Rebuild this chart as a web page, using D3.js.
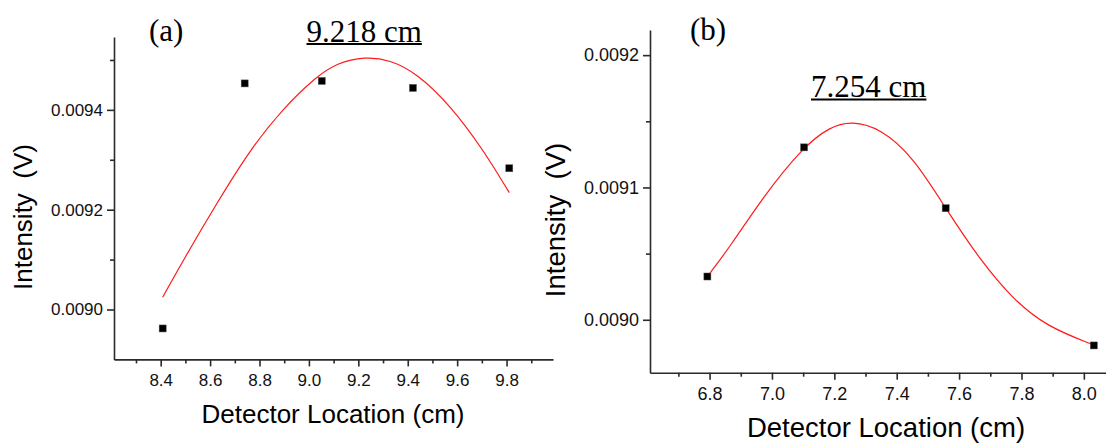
<!DOCTYPE html>
<html>
<head>
<meta charset="utf-8">
<script src="https://cdn.jsdelivr.net/npm/d3@7"></script>
<style>
  body { margin: 0; background: #fff; }
  svg { display: block; }
  .tick text { font-family: "Liberation Sans", Arial, sans-serif; fill: #111; }
  .domain, .tick line { stroke: #2a2a2a; stroke-width: 1.6; }
</style>
</head>
<body>
<svg id="chart" width="1106" height="444"></svg>
<script>
// panel (a) - measured points and fitted curve
const aX = [8.408, 8.740, 9.052, 9.421, 9.811];
const aY = [0.008962, 0.009453, 0.009458, 0.009444, 0.009283];
const aFitX = [8.408, 8.492, 8.627, 8.761, 8.896, 9.031, 9.112, 9.227, 9.328, 9.436, 9.571, 9.706, 9.811];
const aFitY = [0.0090245, 0.0090993, 0.0092130, 0.0093198, 0.0094035, 0.0094668, 0.0094937, 0.0095069, 0.0095003, 0.0094736, 0.0094101, 0.0093198, 0.0092342];
const aXTicks = [8.4, 8.6, 8.8, 9.0, 9.2, 9.4, 9.6, 9.8];
const aXMinor = [8.3, 8.5, 8.7, 8.9, 9.1, 9.3, 9.5, 9.7, 9.9];
const aYTicks = [0.0090, 0.0092, 0.0094];
const aYMinor = [0.0091, 0.0093, 0.0095];

// panel (b)
const bX = [6.793, 7.103, 7.557, 8.032];
const bY = [0.0090327, 0.0091303, 0.0090843, 0.0089806];
const bFitX = [6.793, 6.866, 6.972, 7.101, 7.186, 7.256, 7.347, 7.453, 7.560, 7.667, 7.774, 7.881, 8.030];
const bFitY = [0.0090327, 0.0090553, 0.0090931, 0.0091308, 0.0091459, 0.0091502, 0.0091447, 0.0091232, 0.0090830, 0.0090453, 0.0090151, 0.0089949, 0.0089811];
const bXTicks = [6.8, 7.0, 7.2, 7.4, 7.6, 7.8, 8.0];
const bXMinor = [6.7, 6.9, 7.1, 7.3, 7.5, 7.7, 7.9];
const bYTicks = [0.0090, 0.0091, 0.0092];
const bYMinor = [0.00905, 0.00915];

const svg = d3.select("#chart");

function drawPanel(p) {
	const x = d3.scaleLinear().domain(p.xDomain).range([p.left, p.right]);
	const y = d3.scaleLinear().domain(p.yDomain).range([p.bottom, p.top]);
	const g = svg.append("g");

	// minor ticks first, no labels
	g.append("g")
		.attr("transform", "translate(0," + p.bottom + ")")
		.call(d3.axisBottom(x).tickValues(p.xMinor).tickSize(4).tickSizeOuter(0).tickFormat(""))
		.select(".domain").remove();
	g.append("g")
		.attr("transform", "translate(" + p.left + ",0)")
		.call(d3.axisLeft(y).tickValues(p.yMinor).tickSize(4).tickSizeOuter(0).tickFormat(""))
		.select(".domain").remove();

	const xa = g.append("g")
		.attr("transform", "translate(0," + p.bottom + ")")
		.call(d3.axisBottom(x).tickValues(p.xTicks).tickSize(7).tickSizeOuter(0).tickPadding(8).tickFormat(d3.format(".1f")));
	xa.selectAll("text").attr("font-size", p.tickFont);

	const ya = g.append("g")
		.attr("transform", "translate(" + p.left + ",0)")
		.call(d3.axisLeft(y).tickValues(p.yTicks).tickSize(7).tickSizeOuter(0).tickPadding(4).tickFormat(d3.format(".4f")));
	ya.selectAll("text").attr("font-size", p.tickFont);

	// fitted curve (smoothed through the read-off points)
	const line = d3.line()
		.x(function (d) { return x(d[0]); })
		.y(function (d) { return y(d[1]); })
		.curve(d3.curveBasis);
	g.append("path")
		.datum(d3.zip(p.fitX, p.fitY))
		.attr("d", line)
		.attr("fill", "none")
		.attr("stroke", "#ff1a1a")
		.attr("stroke-width", 1.2);

	// data squares
	g.selectAll("rect.pt")
		.data(d3.zip(p.ptX, p.ptY))
		.join("rect")
		.attr("class", "pt")
		.attr("x", function (d) { return x(d[0]) - 3.5; })
		.attr("y", function (d) { return y(d[1]) - 3.5; })
		.attr("width", 7)
		.attr("height", 7)
		.attr("fill", "#000")
		.attr("stroke", "#555")
		.attr("stroke-width", 0.5);

	// axis titles
	g.append("text")
		.attr("x", p.xTitleX)
		.attr("y", p.xTitleY)
		.attr("text-anchor", "middle")
		.attr("font-family", "Liberation Sans, Arial, sans-serif")
		.attr("font-size", p.titleFont)
		.text("Detector Location (cm)");
	g.append("text")
		.attr("transform", "translate(" + p.yTitleX + "," + p.yTitleY + ") rotate(-90)")
		.attr("text-anchor", "middle")
		.attr("font-family", "Liberation Sans, Arial, sans-serif")
		.attr("font-size", p.titleFont)
		.style("white-space", "pre")
		.text("Intensity  (V)");

	// panel letter and peak annotation
	g.append("text")
		.attr("x", p.letterX).attr("y", p.letterY)
		.attr("font-family", "Liberation Serif, Times New Roman, serif")
		.attr("font-size", 31)
		.text(p.letter);
	const peak = g.append("text")
		.attr("x", p.peakX).attr("y", p.peakY)
		.attr("font-family", "Liberation Serif, Times New Roman, serif")
		.attr("font-size", 31)
		.text(p.peak);
	const w = peak.node().getComputedTextLength();
	g.append("line")
		.attr("x1", p.peakX).attr("x2", p.peakX + w)
		.attr("y1", p.peakY + 2.5).attr("y2", p.peakY + 2.5)
		.attr("stroke", "#000").attr("stroke-width", 2);
}

drawPanel({
	xDomain: [8.211, 9.988], yDomain: [0.0089, 0.009546],
	left: 114, right: 553, top: 37, bottom: 359.4,
	xTicks: aXTicks, xMinor: aXMinor, yTicks: aYTicks, yMinor: aYMinor,
	ptX: aX, ptY: aY, fitX: aFitX, fitY: aFitY,
	tickFont: 17, titleFont: 26,
	xTitleX: 333, xTitleY: 423, yTitleX: 32, yTitleY: 217,
	letter: "(a)", letterX: 149, letterY: 41,
	peak: "9.218 cm", peakX: 306.5, peakY: 41.5
});

drawPanel({
	xDomain: [6.609, 8.071], yDomain: [0.00896, 0.009219],
	left: 650, right: 1106, top: 30, bottom: 372.7,
	xTicks: bXTicks, xMinor: bXMinor, yTicks: bYTicks, yMinor: bYMinor,
	ptX: bX, ptY: bY, fitX: bFitX, fitY: bFitY,
	tickFont: 18, titleFont: 27.5,
	xTitleX: 886, xTitleY: 437, yTitleX: 565, yTitleY: 220,
	letter: "(b)", letterX: 690, letterY: 40,
	peak: "7.254 cm", peakX: 811, peakY: 97
});
</script>
</body>
</html>
